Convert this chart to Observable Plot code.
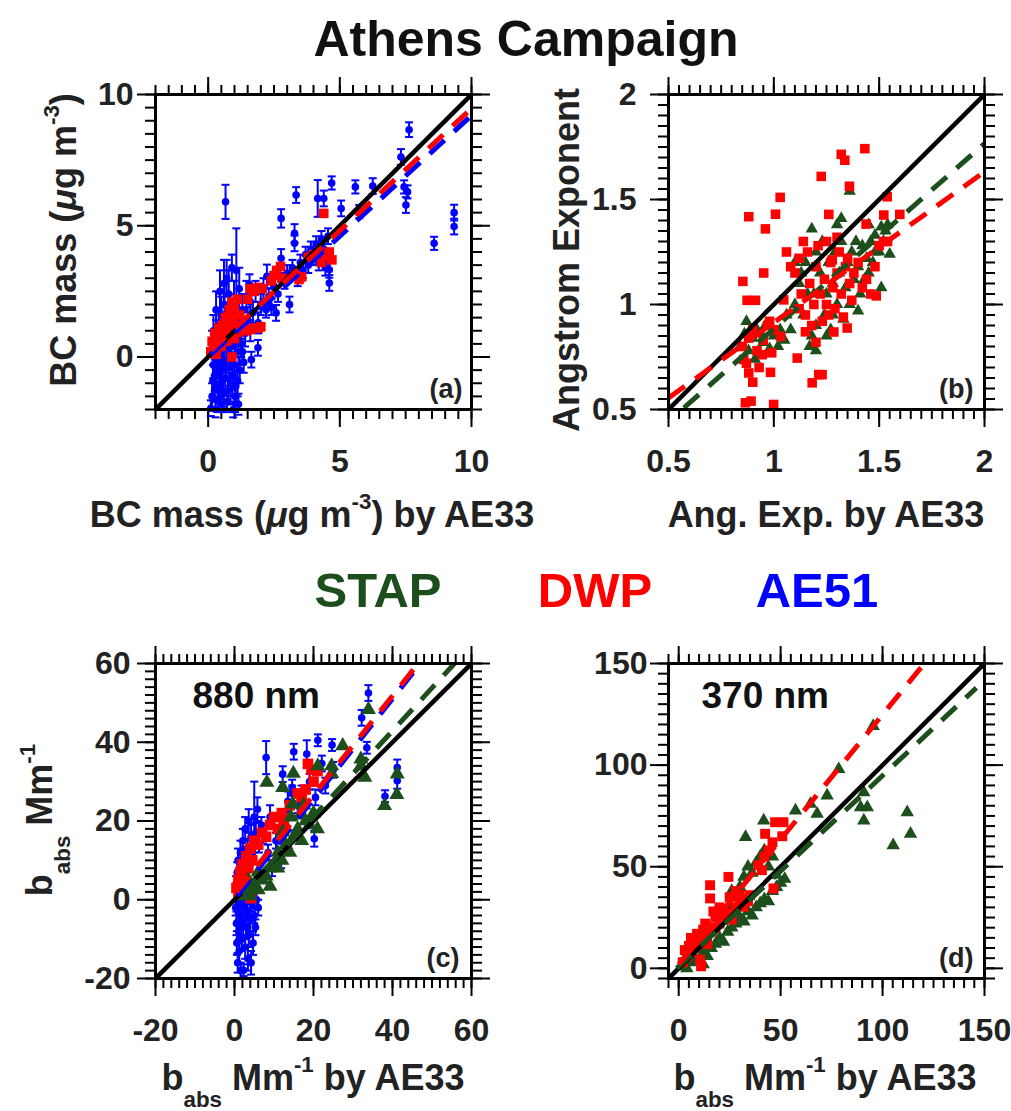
<!DOCTYPE html>
<html><head><meta charset="utf-8">
<script src="https://cdn.jsdelivr.net/npm/d3@7"></script>
<script src="https://cdn.jsdelivr.net/npm/@observablehq/plot@0.6"></script>
<style>
html,body{margin:0;padding:0;background:#fff;overflow:hidden;}
#root{position:relative;width:1011px;height:1111px;background:#fff;overflow:hidden;font-family:'Liberation Sans',Arial,Helvetica,sans-serif;}
#root svg{position:absolute;}
.lbl{position:absolute;font-weight:bold;line-height:1;white-space:nowrap;color:#222;font-family:'Liberation Sans',Arial,Helvetica,sans-serif;}
.sup{font-size:0.62em;position:relative;top:-0.78em;}
.sub{font-size:0.62em;position:relative;top:0.8em;}
</style></head><body><div id="root"></div>
<script>
// ---------- colours / series ----------
const seriesNames = ["STAP", "DWP", "AE51"];
const seriesColors = {STAP: "#1d4f1d", DWP: "#ff0000", AE51: "#0000ff"};

// ---------- panel (a): BC mass [x, y, err] ----------
const ae51A = [
  [0.10,-1.95,0.3],[0.15,-1.5,0.5],[0.18,-0.9,0.6],[0.2,-0.3,0.5],[0.22,0.3,0.6],[0.25,-1.2,0.5],[0.28,-2.0,0.3],
  [0.3,0.8,0.6],[0.32,-0.6,0.5],[0.35,0.1,0.7],[0.38,-1.6,0.4],[0.4,1.2,0.6],[0.42,-0.2,0.6],[0.45,0.6,0.5],
  [0.48,-1.0,0.6],[0.5,1.6,0.7],[0.52,-0.5,0.7],[0.55,0.9,0.5],[0.58,-1.4,0.5],[0.6,0.3,0.7],[0.62,2.0,0.8],
  [0.65,-0.8,0.6],[0.68,1.3,0.6],[0.7,-0.1,0.7],[0.72,-1.7,0.4],[0.75,0.7,0.6],[0.78,2.4,0.9],[0.8,-0.4,0.7],
  [0.82,1.7,0.7],[0.85,-1.2,0.6],[0.88,0.4,0.7],[0.9,3.4,0.5],[0.92,-0.7,0.8],[0.95,-2.0,0.3],[0.95,1.0,0.6],
  [0.98,2.1,0.8],[1.0,-0.3,0.7],[1.02,-1.5,0.6],[1.05,0.6,0.6],[1.07,3.3,1.6],[1.1,1.4,0.7],[1.12,-0.9,0.6],
  [1.15,0.2,0.5],[1.18,2.6,0.8],[1.2,-0.5,0.5],[1.22,1.1,0.6],[1.25,0.5,0.5],[1.3,1.8,0.6],[1.35,-0.2,0.4],
  [1.4,0.9,0.5],[1.45,2.3,0.6],[1.5,1.4,0.5],[0.2,1.0,0.6],[0.3,1.8,0.7],[0.45,2.5,0.8],[0.6,2.8,0.9],
  [0.7,3.0,0.7],[0.15,0.5,0.5],[0.5,-1.8,0.3],[1.15,-1.8,0.4],[0.25,-0.7,0.6],[0.55,-0.2,0.6],[0.85,0.1,0.6],
  [1.05,-1.1,0.6],[0.4,-1.3,0.5],[0.75,-1.3,0.5],[1.3,0.2,0.5],[1.6,1.0,0.4],
  [1.57,2.75,0.4],[1.6,2.1,0.5],[1.64,-0.1,0.3],[1.7,1.7,0.4],[1.8,2.5,0.4],[1.89,0.35,0.3],[1.9,1.3,0.4],
  [2.0,2.0,0.4],[2.1,2.6,0.4],[2.2,1.8,0.3],[2.23,3.07,0.45],[2.3,2.3,0.3],[2.4,1.9,0.3],[2.5,2.7,0.3],
  [2.58,1.68,0.3],[2.65,2.4,0.3],[2.77,3.76,0.35],[2.77,5.28,0.35],[2.9,2.9,0.3],[3.0,3.2,0.3],[3.09,2.0,0.3],
  [3.2,3.4,0.3],[3.28,4.71,0.35],[3.28,4.33,0.3],[3.34,6.17,0.3],[3.4,3.0,0.3],[3.5,3.6,0.3],[3.6,3.3,0.3],
  [3.7,3.9,0.3],[3.8,3.5,0.3],[3.9,4.1,0.3],[4.0,3.8,0.3],[4.1,4.3,0.3],[4.16,6.04,0.7],[4.2,3.6,0.3],
  [4.3,4.5,0.3],[4.39,6.04,0.3],[4.4,4.1,0.3],[4.5,3.8,0.3],[4.55,4.6,0.3],[4.6,3.32,0.3],[4.6,2.82,0.3],
  [4.69,6.63,0.25],[4.45,3.4,0.3],
  [5.05,5.66,0.3],[5.59,6.48,0.25],[5.74,5.54,0.25],[6.25,6.51,0.3],[7.32,7.62,0.3],[7.44,6.48,0.25],
  [7.57,6.29,0.25],[7.51,5.79,0.3],[7.63,8.66,0.28],[8.58,4.33,0.25],[9.34,5.50,0.3],[9.34,4.97,0.3],[0.66,5.91,0.65]
];
const dwpA = [
  [0.1,0.2],[0.15,0.6],[0.2,0.35],[0.25,0.9],[0.3,0.1],[0.35,0.5],[0.4,1.1],[0.45,0.7],[0.5,0.4],[0.55,1.2],
  [0.6,0.9],[0.65,1.5],[0.7,0.6],[0.75,1.3],[0.8,1.8],[0.85,1.0],[0.9,0.0],[0.9,2.1],[0.95,1.5],[1.0,0.7],
  [1.0,1.9],[1.05,1.2],[1.1,2.2],[1.15,0.95],[1.2,1.6],[1.3,1.05],[1.45,1.0],[1.6,1.05],[1.75,1.1],[1.9,1.1],
  [2.0,1.15],[1.5,2.2],[1.6,2.6],[1.75,2.5],[1.9,2.65],[2.05,2.6],[2.4,2.9],[2.5,3.1],[2.6,3.3],[2.75,3.45],
  [2.8,3.0],[3.3,3.1],[3.45,2.95],[3.55,3.05],[3.8,3.8],[4.0,3.9],[4.3,3.6],[4.45,3.85],[4.6,4.0],[4.7,3.7],[4.39,5.47]
];
const fitsA = [
  {series: "DWP", x1: 0.1, y1: 0.25, x2: 10, y2: 9.47},
  {series: "AE51", x1: 0.1, y1: 0.1, x2: 10, y2: 9.2}
];

// ---------- panel (b): Angstrom exponent [x, y] ----------
const stapB = [
  [0.84,0.80],[0.86,0.86],[0.88,0.78],[0.9,0.84],[0.92,0.88],[0.93,0.76],[0.95,0.82],[0.96,0.9],[0.98,0.79],
  [1.0,0.85],[1.02,0.8],[1.03,0.88],[0.87,0.92],[0.91,0.74],[1.05,0.83],[0.94,0.86],
  [1.1,1.0],[1.12,1.1],[1.14,0.95],[1.15,1.2],[1.16,1.05],[1.18,1.36],[1.18,0.85],[1.2,1.25],[1.2,0.9],
  [1.22,1.15],[1.23,1.3],[1.24,0.95],[1.25,1.05],[1.26,1.2],[1.27,0.88],[1.28,1.1],[1.29,1.25],[1.3,1.0],
  [1.31,1.15],[1.32,1.41],[1.32,1.3],[1.33,0.93],[1.34,1.08],[1.35,1.2],[1.36,1.54],[1.36,1.0],[1.37,1.25],
  [1.38,1.12],[1.39,1.3],[1.4,0.97],[1.4,1.18],[1.41,1.05],[1.42,1.28],[1.43,1.12],[1.44,1.22],[1.45,1.15],
  [1.46,1.3],[1.47,1.2],[1.48,1.33],[1.5,1.25],[1.51,1.08],[1.51,1.37],[1.52,1.3],[1.53,1.35],[1.55,1.24],
  [1.54,1.38],[1.17,0.8],[1.2,0.78],[1.25,0.85],[1.13,1.15],[1.1,1.2],[1.28,0.95],[1.3,1.38],[1.19,1.05],
  [1.06,0.95],[1.08,0.88],[1.45,1.38],[1.48,1.25]
];
const dwpB = [
  [0.881,1.418],[0.96,1.36],[1.008,1.43],[1.03,1.51],[0.853,1.11],[0.952,1.15],[0.873,1.02],[0.913,1.02],
  [1.225,1.61],[1.32,1.715],[1.337,1.687],[1.432,1.742],[1.359,1.563],[1.261,1.429],[1.438,1.383],
  [1.522,1.426],[1.598,1.429],[1.538,1.513],[1.486,1.041],[1.213,0.666],[1.182,0.627],[1.229,0.666],
  [0.999,0.524],[0.865,0.532],[0.892,0.54],[0.857,0.738],[0.881,0.674],[0.984,0.677],[1.111,0.745],
  [0.945,0.761],[1.032,0.848],[1.348,0.888],[1.285,0.869],[1.047,1.022],[1.277,1.212],
  [1.1,1.15],[1.12,1.22],[1.13,1.05],[1.15,0.95],[1.16,1.25],[1.17,1.1],[1.18,0.9],[1.19,1.0],[1.2,1.18],
  [1.21,1.28],[1.22,1.05],[1.23,0.92],[1.24,1.12],[1.25,1.0],[1.26,0.95],[1.27,1.2],[1.28,1.08],[1.29,0.98],
  [1.3,1.15],[1.31,1.25],[1.32,1.05],[1.33,0.94],[1.34,1.18],[1.35,1.22],[1.36,1.1],[1.37,1.02],[1.38,1.15],
  [1.4,1.2],[1.42,1.08],[1.44,1.12],[1.46,1.05],[1.48,1.18],[1.5,1.28],[1.52,1.3],[1.54,1.3],[1.12,0.98],
  [1.15,0.87],[1.2,0.82],[1.25,1.3],[1.3,1.32],[1.14,1.3],[1.08,1.18],[1.06,1.25],
  [0.85,0.8],[0.88,0.84],[0.9,0.88],[0.92,0.78],[0.95,0.83],[0.97,0.9],[0.99,0.77],[0.87,0.72],[0.93,0.7],
  [0.9,0.63],[1.0,0.88],[0.98,0.92]
];
const fitsB = [
  {series: "STAP", x1: 0.573, y1: 0.508, x2: 2.0, y2: 1.766},
  {series: "DWP", x1: 0.5, y1: 0.555, x2: 2.0, y2: 1.632}
];

// ---------- panel (c): b_abs 880 nm ----------
const ae51C = [
  [0.3,-2,2],[0.5,-6,3],[0.6,-11,3],[0.8,-16,2.5],[1.0,-1,2],[1.1,-8,3],[1.2,-13,3],[1.4,-4,3],[1.5,2,2],
  [1.6,-18,2],[1.8,-10,3],[2.0,0,2],[2.2,-6,3],[2.3,-17.9,1.5],[2.5,-2,2.5],[2.7,-12,3],[2.9,-7,3],[3.0,3,2],
  [3.2,-3,2],[3.4,-15,3],[3.6,-9,3],[3.8,1,2],[4.0,-5,3],[4.2,-16,3],[4.4,-1,2],[4.7,-11,3],[5.0,-4,2],
  [5.3,-7,2],[5.6,0,2],[6.0,-2,2],[0.4,4,2],[0.7,7,2.5],[0.9,10,3],[1.2,5,2],[1.5,12,3],[1.8,8,2],[2.1,15,3],
  [2.4,11,2.5],[2.7,18,3],[3.0,6,2],[3.3,13,2.5],[3.6,20,3],[3.9,9,2],[4.2,16,3],[4.6,12,2],[5.0,21,9],
  [5.4,17,2.5],[5.8,23,3],[6.2,14,2],[6.8,19,2],[7.2,16.8,2.5],[8.01,36.1,4.2],[8.5,12,2],[9.0,21,3],
  [9.5,8,2],[10.5,15,2],[11.8,10,2],[12.2,31.9,2],[12.8,20,2],[13.5,25,2.5],[14.6,28.5,2],[14.6,27,2],
  [15.0,37.6,2],[16,24,2],[17,27,2],[18.3,37,3.5],[19,30,2],[20.2,15.5,2],[20.5,26,2],[21.1,40.5,1.5],
  [22.1,34.6,2],[23,29,2],[24.7,39.3,1.5],[25,33,2],[32.2,46.2,2],[33.5,38.6,1.5],[33.9,52.5,2],
  [38.1,26.3,1.5],[41.2,33.6,2],[41.2,30.2,2]
];
const dwpC = [
  [0.5,3],[1,5],[1.5,7],[2,9],[2.5,6],[3,11],[3.5,8],[4,13],[4.5,10],[5,15],[4.2,0.4],[6,14],[7,17],[8,16],
  [9,19],[10,21],[11,18],[12,22],[12.5,20],[14,24],[16,27],[17,26],[18,28],[18.6,34.5],[19.5,33],[20,30],
  [21,32.7],[1,1.5],[2,3],[3,4]
];
const stapC = [
  [2,1],[3,2.5],[4,1],[5,4],[6,2.5],[7,5],[8,6],[9,3.4],[9,8],[10,9],[11,8],[11,12],[12,10],[12.2,17.2],
  [13,14],[14,12],[14.3,21],[14.7,24.3],[15,16],[16,18],[16.6,21.5],[17,15],[17.5,24],[18,20],[19,19],
  [20,22],[21,18],[8.2,29.8],[12.2,28.5],[14.9,32.1],[21.1,34],[24.6,32],[24.6,34],[27.4,39.1],[32,35.7],
  [32,34],[33,31.1],[33.9,48.3],[41.2,31.9],[41.1,26.7],[38,23.9],[6,7],[4.5,3],[3.5,5]
];
const fitsC = [
  {series: "STAP", x1: 2, y1: 1.5, x2: 55.7, y2: 60},
  {series: "AE51", x1: 0.7, y1: 1, x2: 47, y2: 60},
  {series: "DWP", x1: 0.5, y1: 2, x2: 46.5, y2: 60}
];

// ---------- panel (d): b_abs 370 nm ----------
const stapD = [
  [2,1],[4,0],[6,3],[8,5],[10,4],[12,8],[14,6],[16,10],[18,12],[20,15],[22,13],[24,18],[26,20],[28,22],
  [30,25],[32,23],[34,28],[36,26],[38,30],[40,32],[42,34],[44,33],[46,38],[48,40],[50,42],[52,44],[28,35],
  [30,40],[32,45],[34,50],[36,47],[38,52],[40,55],[42,58],[44,50],[46,55],[32.8,64.6],[41.7,72.7],[57.3,77.6],
  [64.6,80.9],[67.9,76],[72.8,85],[78.5,98],[95.4,119.2],[90.8,86.6],[92.5,79.2],[89.2,79.2],[90.8,72.7],
  [112.1,76.8],[113.7,66.2],[105.2,60.5],[20,25],[25,30],[15,20],[10,12],[8,14],[12,2],[48,46],[26,38]
];
const dwpD = [
  [2,3],[4,6],[6,8],[8,10],[10,13],[12,15],[14,12],[16,18],[18,20],[20,22],[22,25],[24,27],[26,24],[28,30],
  [30,32],[32,34],[34,33],[35,36],[10.5,4.3],[11,1],[15.4,40.9],[15.4,34.4],[24.4,45],[31.8,30.3],[39.1,50.7],
  [40.8,48.3],[42,55],[44,58],[46,62],[42.4,66.2],[47.3,71.9],[51.4,71.9],[50.8,65],[46.5,39.3],[5,11],[7,14],
  [9,17],[12,19],[3,9],[20,30],[22,28],[18,25],[25,35],[6,15],[13,22],[17,28],[28,38],[30,36]
];
const fitsD = [
  {series: "STAP", x1: -1, y1: 0, x2: 146, y2: 138},
  {series: "DWP", x1: 0, y1: 2, x2: 120.5, y2: 150}
];

// ---------- axes ----------
const domainA = [-2, 10], ticksA = [0, 5, 10], minorA = 0.5;
const domainB = [0.5, 2], ticksB = [0.5, 1, 1.5, 2], minorB = 0.05;
const domainC = [-20, 60], ticksC = [-20, 0, 20, 40, 60], minorC = 2;
const domainD = [-5, 150], ticksD = [0, 50, 100, 150], minorD = 5;

// ---------- helpers ----------
const root = document.getElementById("root");
const FONT = "'Liberation Sans', Arial, Helvetica, sans-serif";
const capSymbol = {draw(ctx, size) { const w = Math.sqrt(size) / 2; ctx.moveTo(-w, 0); ctx.lineTo(w, 0); }};
const pts = (arr) => arr.map(([x, y, e]) => ({x, y, e}));

function scatter(arr, series, symbol, r) {
  return Plot.dot(pts(arr), {x: "x", y: "y", symbol, r, fill: seriesColors[series], stroke: "none"});
}
function errorBars(arr, series) {
  const d = pts(arr);
  const c = seriesColors[series];
  return [
    Plot.ruleX(d, {x: "x", y1: (p) => p.y - p.e, y2: (p) => p.y + p.e, stroke: c, strokeWidth: 2, clip: true}),
    Plot.dot(d, {x: "x", y: (p) => p.y + p.e, symbol: capSymbol, r: 4.5, stroke: c, fill: "none", strokeWidth: 2}),
    Plot.dot(d, {x: "x", y: (p) => p.y - p.e, symbol: capSymbol, r: 4.5, stroke: c, fill: "none", strokeWidth: 2}),
    Plot.dot(d, {x: "x", y: "y", r: 3.8, fill: c, stroke: "none"})
  ];
}
function fitLines(fits, order) {
  return order.map((s) => Plot.link(fits.filter((f) => f.series === s), {
    x1: "x1", y1: "y1", x2: "x2", y2: "y2", stroke: seriesColors[s], strokeWidth: 5,
    strokeDasharray: "20,13", clip: true
  }));
}
function identityLine(domain) {
  return Plot.link([{a: domain[0], b: domain[1]}], {x1: "a", y1: "a", x2: "b", y2: "b", stroke: "black", strokeWidth: 4.5, clip: true});
}
function panelLabel(txt, dx, dy) {
  return Plot.text([txt], {text: (d) => d, frameAnchor: "bottom-right", dx, dy, fontSize: 27, fontWeight: "bold", fill: "#222"});
}

function panel({domain, ticks, minor, padY, marks, left, top}) {
  const W = 316, H = 315, mL = 120, mR = 30, mT = 25, mB = 65;
  const minorTicks = d3.range(domain[0], domain[1] + minor / 2, minor);
  const tk = {stroke: "black", strokeWidth: 2, label: null};
  const fmt = (d) => String(d);
  const plot = Plot.plot({
    width: W + mL + mR, height: H + mT + mB,
    marginLeft: mL, marginRight: mR, marginTop: mT, marginBottom: mB,
    x: {domain}, y: {domain},
    style: {background: "transparent", fontFamily: FONT, overflow: "visible", color: "#222"},
    marks: [
      Plot.axisX({anchor: "bottom", ticks: minorTicks, tickSize: 10, fill: "none", ...tk}),
      Plot.axisX({anchor: "top", ticks: minorTicks, tickSize: 10, fill: "none", ...tk}),
      Plot.axisY({anchor: "left", ticks: minorTicks, tickSize: 10, fill: "none", ...tk}),
      Plot.axisY({anchor: "right", ticks: minorTicks, tickSize: 10, fill: "none", ...tk}),
      Plot.axisX({anchor: "bottom", ticks, tickSize: 18, tickPadding: 22, tickFormat: fmt, fill: "#222", fontSize: 32, fontWeight: "bold", ...tk}),
      Plot.axisX({anchor: "top", ticks, tickSize: 18, fill: "none", ...tk}),
      Plot.axisY({anchor: "left", ticks, tickSize: 18, tickPadding: padY, tickFormat: fmt, fill: "#222", fontSize: 32, fontWeight: "bold", ...tk}),
      Plot.axisY({anchor: "right", ticks, tickSize: 18, fill: "none", ...tk}),
      ...marks,
      Plot.frame({stroke: "black", strokeWidth: 3})
    ]
  });
  plot.style.left = (left - mL) + "px";
  plot.style.top = (top - mT) + "px";
  root.appendChild(plot);
}

// ---------- panels ----------
panel({domain: domainA, ticks: ticksA, minor: minorA, padY: 4, left: 155, top: 93.5, marks: [
  ...errorBars(ae51A, "AE51"),
  scatter(dwpA, "DWP", "square", 5.4),
  identityLine(domainA),
  ...fitLines(fitsA, ["AE51", "DWP"]),
  panelLabel("(a)", -9, -12)
]});
panel({domain: domainB, ticks: ticksB, minor: minorB, padY: 14, left: 668, top: 93.5, marks: [
  scatter(stapB, "STAP", "triangle", 4.6),
  scatter(dwpB, "DWP", "square", 5.4),
  identityLine(domainB),
  ...fitLines(fitsB, ["STAP", "DWP"]),
  panelLabel("(b)", -11, -12)
]});
panel({domain: domainC, ticks: ticksC, minor: minorC, padY: 7, left: 155, top: 663, marks: [
  ...errorBars(ae51C, "AE51"),
  scatter(dwpC, "DWP", "square", 6.0),
  scatter(stapC, "STAP", "triangle", 5.6),
  identityLine(domainC),
  ...fitLines(fitsC, ["STAP", "AE51", "DWP"]),
  Plot.text(["880 nm"], {text: (d) => d, frameAnchor: "top-left", dx: 37, dy: 18, fontSize: 37, fontWeight: "bold", fill: "#111"}),
  panelLabel("(c)", -12, -12)
]});
panel({domain: domainD, ticks: ticksD, minor: minorD, padY: 3, left: 668, top: 663, marks: [
  scatter(stapD, "STAP", "triangle", 5.0),
  scatter(dwpD, "DWP", "square", 5.6),
  identityLine(domainD),
  ...fitLines(fitsD, ["STAP", "DWP"]),
  Plot.text(["370 nm"], {text: (d) => d, frameAnchor: "top-left", dx: 33, dy: 18, fontSize: 37, fontWeight: "bold", fill: "#111"}),
  panelLabel("(d)", -11, -12)
]});

// ---------- text (title, axis labels, legend) ----------
function label(html, {x, baseline, size, color = "#222", rotate = false, cy}) {
  const d = document.createElement("div");
  d.className = "lbl";
  d.innerHTML = html;
  d.style.fontSize = size + "px";
  d.style.color = color;
  const off = 0.3465 * size;
  if (rotate) {
    d.style.left = (baseline - off) + "px";
    d.style.top = cy + "px";
    d.style.transform = "translate(-50%,-50%) rotate(-90deg)";
  } else {
    d.style.left = x + "px";
    d.style.top = (baseline - off) + "px";
    d.style.transform = "translate(-50%,-50%)";
  }
  root.appendChild(d);
}
const mu = "<i>&mu;</i>";
label("Athens Campaign", {x: 526, baseline: 56, size: 50, color: "#111"});
label(`BC mass (${mu}g m<span class="sup">-3</span>) by AE33`, {x: 312, baseline: 527, size: 36});
label("Ang. Exp. by AE33", {x: 826, baseline: 527, size: 36});
label(`BC mass (${mu}g m<span class="sup">-3</span>)`, {rotate: true, baseline: 76, cy: 240, size: 36});
label("Angstrom Exponent", {rotate: true, baseline: 579, cy: 260, size: 36});
label(`b<span class="sub">abs</span> Mm<span class="sup">-1</span>`, {rotate: true, baseline: 52, cy: 820, size: 36});
label(`b<span class="sub">abs</span> Mm<span class="sup">-1</span> by AE33`, {x: 313, baseline: 1090, size: 36});
label(`b<span class="sub">abs</span> Mm<span class="sup">-1</span> by AE33`, {x: 825, baseline: 1090, size: 36});
const legendX = {STAP: 378, DWP: 595, AE51: 817};
seriesNames.forEach((s) => label(s, {x: legendX[s], baseline: 607, size: 49, color: seriesColors[s]}));
</script></body></html>
